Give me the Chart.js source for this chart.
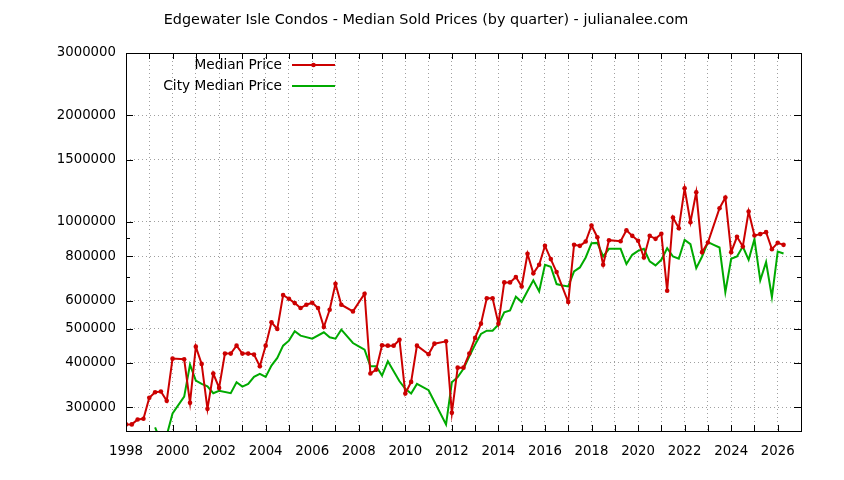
<!DOCTYPE html>
<html><head><meta charset="utf-8">
<script src="https://cdn.jsdelivr.net/npm/chart.js@4.4.1/dist/chart.umd.min.js"></script>
<style>html,body{margin:0;padding:0;background:#fff}#wrap{width:844px;height:480px;position:relative}</style>
</head><body><div id="wrap"><canvas id="c"></canvas></div>
<script>
const chartTitle = "Edgewater Isle Condos - Median Sold Prices (by quarter) - julianalee.com";
const seriesNames = ["Median Price", "City Median Price"];

const medianQuarters = [
  1998.00,1998.25,1998.50,1998.75,1999.00,1999.25,1999.50,1999.75,
  2000.00,2000.50,2000.75,2001.00,2001.25,2001.50,2001.75,
  2002.00,2002.25,2002.50,2002.75,2003.00,2003.25,2003.50,2003.75,
  2004.00,2004.25,2004.50,2004.75,2005.00,2005.25,2005.50,2005.75,
  2006.00,2006.25,2006.50,2006.75,2007.00,2007.25,2007.75,
  2008.25,2008.50,2008.75,2009.00,2009.25,2009.50,2009.75,
  2010.00,2010.25,2010.50,2011.00,2011.25,2011.75,
  2012.00,2012.25,2012.50,2012.75,2013.00,2013.25,2013.50,2013.75,
  2014.00,2014.25,2014.50,2014.75,2015.00,2015.25,2015.50,2015.75,
  2016.00,2016.25,2016.50,2017.00,2017.25,2017.50,2017.75,
  2018.00,2018.25,2018.50,2018.75,2019.25,2019.50,2019.75,
  2020.00,2020.25,2020.50,2020.75,2021.00,2021.25,2021.50,2021.75,
  2022.00,2022.25,2022.50,2022.75,2023.00,2023.50,2023.75,
  2024.00,2024.25,2024.50,2024.75,2025.00,2025.25,2025.50,2025.75,
  2026.00,2026.25
];
const medianPrices = [
  268300,268300,277000,278200,318800,330700,332100,312600,
  411400,409600,308600,444700,397500,296800,373400,
  340100,425000,425000,447600,425000,425000,422300,391500,
  447600,520900,498900,621700,607200,590300,571500,584000,
  591700,571500,505300,565400,669200,584000,559300,
  627100,373400,383100,448600,447600,447600,465300,
  327900,353600,447600,423200,453400,460300,
  289200,388000,388000,425000,470700,516500,608700,608700,
  516500,675200,675200,699000,657800,813200,716100,757200,
  856500,785700,722200,594300,862000,856500,880900,
  977500,906000,757200,888500,882000,948000,913900,
  884800,794000,913900,896200,926200,639500,1029500,960600,
  1245100,998600,1212900,822000,875300,1093500,1171900,
  822000,908000,852800,1070400,915900,924200,936000,838100,
  873400,862000
];

const cityQuarters = [
  1999.25,1999.50,1999.75,2000.00,2000.50,2000.75,2001.00,2001.25,2001.50,2001.75,
  2002.00,2002.50,2002.75,2003.00,2003.25,2003.50,2003.75,
  2004.00,2004.25,2004.50,2004.75,2005.00,2005.25,2005.50,
  2006.00,2006.50,2006.75,2007.00,2007.25,2007.75,
  2008.00,2008.25,2008.50,2008.75,2009.00,2009.25,2009.75,
  2010.00,2010.25,2010.50,2011.00,2011.75,
  2012.00,2012.25,2012.50,2012.75,2013.00,2013.25,2013.50,2013.75,
  2014.00,2014.25,2014.50,2014.75,2015.00,2015.25,2015.50,2015.75,
  2016.00,2016.25,2016.50,2016.75,2017.00,2017.25,2017.50,2017.75,
  2018.00,2018.25,2018.50,2018.75,2019.25,2019.50,2019.75,
  2020.00,2020.25,2020.50,2020.75,2021.00,2021.25,2021.50,2021.75,
  2022.00,2022.25,2022.50,2022.75,2023.00,2023.25,2023.50,2023.75,
  2024.00,2024.25,2024.50,2024.75,2025.00,2025.25,2025.50,2025.75,
  2026.00,2026.25
];
const cityPrices = [
  263000,240000,250000,287900,321500,395800,356700,349000,343800,328600,
  333600,328600,352800,343000,349000,365300,372500,
  365300,393100,413200,447600,462400,491300,477600,
  468300,488100,472500,468300,496500,455400,
  445600,436100,391500,391500,368500,404400,355100,
  337900,327900,349000,335000,268300,
  352800,364700,384900,417800,450700,482900,493400,493400,
  513100,555900,563100,615400,594300,638200,684200,636700,
  757200,747500,667900,662000,657800,725200,744200,794000,
  871500,873000,799200,839900,839900,760500,807800,
  829200,839900,773800,754000,782200,843500,799200,787400,
  890400,865800,740900,799200,877200,862000,847200,634100,
  787400,799200,852800,782200,894300,684200,770400,614000,
  825500,814900
];

const yLabelValues = [300000,400000,500000,600000,800000,1000000,1500000,2000000,3000000];
const yMinorValues = [700000,900000];
const yMin = 257000, yMax = 3000000;
const xYears = [];
for (let yr = 1998; yr <= 2027; yr++) xYears.push(yr);
const xLabelYears = [1998,2000,2002,2004,2006,2008,2010,2012,2014,2016,2018,2020,2022,2024,2026];

const RED = '#cc0000', GREEN = '#00aa00';
const FONT = '"DejaVu Sans", sans-serif';

const toPts = (xs, ys) => xs.map((x, i) => ({x: x, y: ys[i]}));

const framePlugin = {
  id: 'frame',
  afterDraw(chart) {
    const {ctx, chartArea: a, scales: {x, y}} = chart;
    ctx.save();
    ctx.strokeStyle = '#000';
    ctx.lineWidth = 1;
    ctx.beginPath();
    xYears.forEach(v => {
      const px = Math.round(x.getPixelForValue(v)) + 0.5;
      ctx.moveTo(px, a.bottom); ctx.lineTo(px, a.bottom - 6);
      ctx.moveTo(px, a.top); ctx.lineTo(px, a.top + 6);
    });
    yLabelValues.concat(yMinorValues).forEach(v => {
      const len = yLabelValues.includes(v) ? 7 : 4;
      const py = Math.round(y.getPixelForValue(v)) + 0.5;
      ctx.moveTo(a.left, py); ctx.lineTo(a.left + len, py);
      ctx.moveTo(a.right, py); ctx.lineTo(a.right - len, py);
    });
    ctx.stroke();
    ctx.strokeRect(Math.round(a.left) + 0.5, Math.round(a.top) + 0.5,
                   Math.round(a.right - a.left), Math.round(a.bottom - a.top));

    // title
    ctx.fillStyle = '#000';
    ctx.font = '14.4px ' + FONT;
    ctx.textAlign = 'center';
    ctx.textBaseline = 'middle';
    ctx.fillText(chartTitle, 426, 20.5);

    // legend (gnuplot style: text right, sample on right)
    ctx.font = '13.7px ' + FONT;
    const ds = chart.data.datasets;
    const rows = [65, 86];
    ds.forEach((d, i) => {
      const ly = rows[i];
      ctx.textAlign = 'right';
      ctx.fillStyle = '#000';
      ctx.fillText(d.label, 282, ly);
      ctx.strokeStyle = d.borderColor;
      ctx.lineWidth = 2;
      ctx.beginPath();
      ctx.moveTo(292, ly); ctx.lineTo(335, ly);
      ctx.stroke();
      if (d.pointRadius > 0) {
        ctx.fillStyle = d.borderColor;
        ctx.beginPath();
        ctx.arc(313.5, ly, d.pointRadius, 0, Math.PI * 2);
        ctx.fill();
      }
    });
    ctx.restore();
  }
};

new Chart(document.getElementById('c'), {
  type: 'line',
  data: {
    datasets: [
      {
        label: seriesNames[0],
        data: toPts(medianQuarters, medianPrices),
        borderColor: RED, backgroundColor: RED,
        borderWidth: 2, pointRadius: 2.3, pointBorderWidth: 0,
        pointBackgroundColor: RED, tension: 0, order: 1
      },
      {
        label: seriesNames[1],
        data: toPts(cityQuarters, cityPrices),
        borderColor: GREEN, backgroundColor: GREEN,
        borderWidth: 2, pointRadius: 0, tension: 0, order: 2
      }
    ]
  },
  options: {
    responsive: true,
    maintainAspectRatio: false,
    animation: false,
    devicePixelRatio: 1,
    layout: {padding: {top: 53, right: 43, left: 0, bottom: 0}},
    plugins: {legend: {display: false}, title: {display: false}, tooltip: {enabled: false}},
    scales: {
      x: {
        type: 'linear', min: 1998, max: 2027,
        afterBuildTicks: s => { s.ticks = xYears.map(v => ({value: v})); },
        afterFit: s => { s.height = 49; },
        ticks: {
          autoSkip: false, maxRotation: 0, padding: 13, color: '#000',
          font: {family: FONT, size: 13.3},
          callback: v => xLabelYears.includes(v) ? String(v) : ''
        },
        grid: {
          drawTicks: false,
          color: c => (c.tick && (c.tick.value === 1998 || c.tick.value === 2027)) ? 'rgba(0,0,0,0)' : '#a0a0a0',
          lineWidth: 1
        },
        border: {display: false, dash: [1, 3]}
      },
      y: {
        type: 'logarithmic', min: yMin, max: yMax,
        afterBuildTicks: s => { s.ticks = yLabelValues.concat(yMinorValues).sort((a, b) => a - b).map(v => ({value: v})); },
        afterFit: s => { s.width = 126; },
        ticks: {
          autoSkip: false, padding: 10, color: '#000',
          font: {family: FONT, size: 13.3},
          callback: v => yLabelValues.includes(v) ? String(v) : ''
        },
        grid: {
          drawTicks: false,
          color: c => (c.tick && yLabelValues.includes(c.tick.value) && c.tick.value !== yMax) ? '#a0a0a0' : 'rgba(0,0,0,0)',
          lineWidth: 1
        },
        border: {display: false, dash: [1, 3]}
      }
    }
  },
  plugins: [framePlugin]
});
</script>
</body></html>
